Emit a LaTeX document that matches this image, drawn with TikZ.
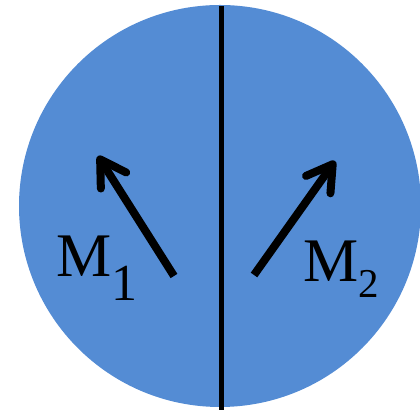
\documentclass[tikz,border=0pt]{standalone}
\usepackage{fontspec}
\setmainfont{Liberation Serif}
\usepackage{xcolor}
\usetikzlibrary{arrows.meta}
\usetikzlibrary{positioning}

\definecolor{diskblue}{RGB}{84,140,212}

\begin{document}
\begin{tikzpicture}[
  x=1pt,y=1pt,
  lbl/.style={inner sep=0pt,anchor=base west,font=\fontsize{62}{62}\selectfont},
  spin/.style={line width=8pt,-{Straight Barb[round,length=25pt,width=30pt]}},
  wall/.style={line width=5pt}
]
\useasboundingbox (0,0) rectangle (420,411);
\clip (0,0) rectangle (420,411);
% the disk
\fill[diskblue] (220,205) circle (201);
% domain wall
\coordinate (top) at (221.5,405);
\coordinate (bot) at (221.5,1);
\draw[wall] (top) -- (bot);
% moments
\coordinate (t1) at (174,135);
\coordinate (h1) at (98,255);
\coordinate (t2) at (254,136);
\coordinate (h2) at (335,250);
\draw[spin] (t1) -- (h1);
\draw[spin] (t2) -- (h2);
% labels
\node[lbl] (m1) at (56,134) {M\raisebox{-24pt}{\fontsize{52}{52}\selectfont 1}};
\node[lbl] (m2) at (303,129) {M\raisebox{-16pt}{\fontsize{41}{41}\selectfont 2}};
\end{tikzpicture}
\end{document}
